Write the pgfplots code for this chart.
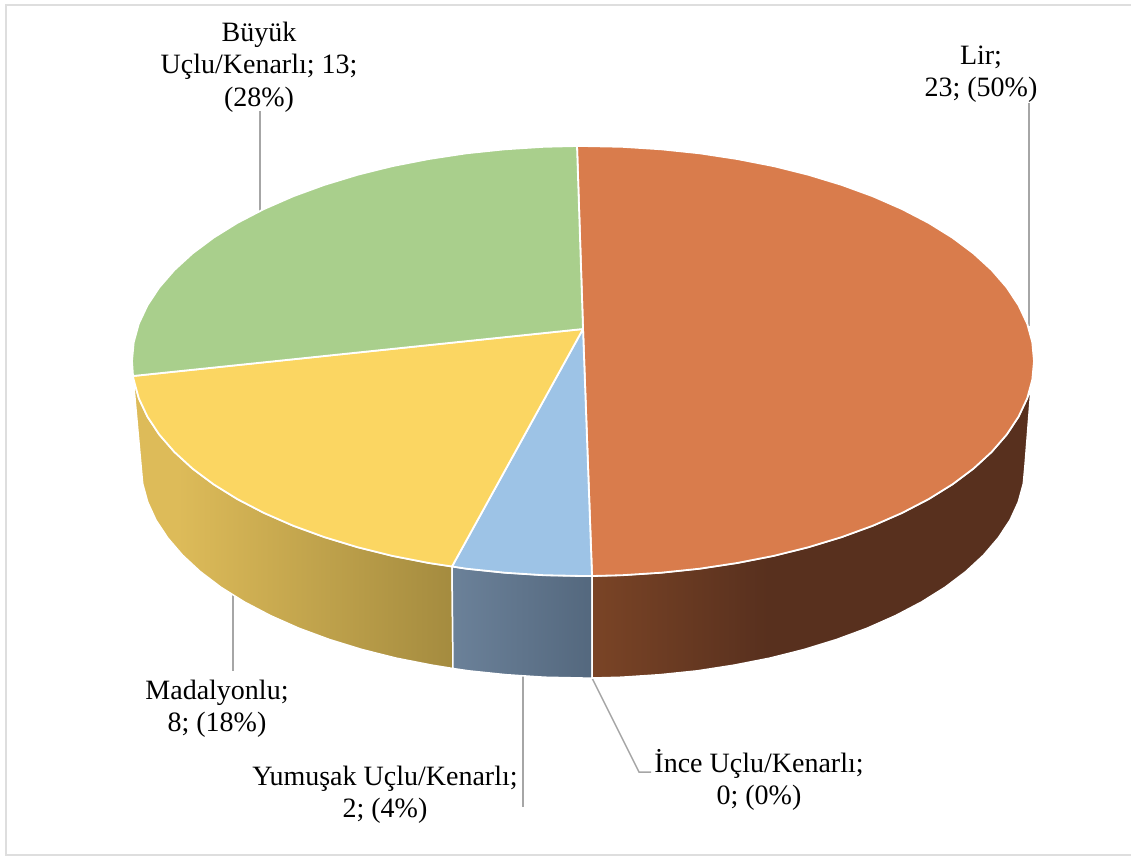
\documentclass[border=0pt]{standalone}
\usepackage{pgfplots}
\pgfplotsset{compat=1.18}
\usepackage{fontspec}
\setmainfont{Liberation Serif}
\definecolor{cOrange}{HTML}{D97C4C}
\definecolor{cGreen}{HTML}{A9CF8C}
\definecolor{cYellow}{HTML}{FBD662}
\definecolor{cBlue}{HTML}{9DC3E6}
\definecolor{cLead}{HTML}{A6A6A6}
\definecolor{cFrame}{HTML}{DEDEDE}
\definecolor{o1}{HTML}{7A4426}
\definecolor{o2}{HTML}{58301E}
\definecolor{b1}{HTML}{6B8199}
\definecolor{b2}{HTML}{54687E}
\definecolor{y1}{HTML}{DDBB59}
\definecolor{y2}{HTML}{A48B3F}
\pgfdeclarehorizontalshading{sideOrange}{100bp}{color(0bp)=(o1); color(25bp)=(o1); color(45bp)=(o2); color(100bp)=(o2)}
\pgfdeclarehorizontalshading{sideBlue}{100bp}{color(0bp)=(b1); color(25bp)=(b1); color(75bp)=(b2); color(100bp)=(b2)}
\pgfdeclarehorizontalshading{sideYellow}{100bp}{color(0bp)=(y1); color(25bp)=(y1); color(32bp)=(y1); color(75bp)=(y2); color(100bp)=(y2)}
\newcommand{\lbl}{\fontsize{28}{32.5}\selectfont}
\begin{document}
\begin{tikzpicture}
\path[use as bounding box] (0,0) rectangle (1131pt,856pt);
\begin{axis}[at={(0,0)},anchor=south west,scale only axis,width=1131pt,height=856pt,
  xmin=0,xmax=1131,ymin=0,ymax=856,y dir=reverse,hide axis,clip=false,
  every axis plot/.append style={mark=none}]
% frame
\addplot[cFrame,line width=1.8pt] coordinates {(1131,5)(6,5)(6,855)(1131,855)};
% leader lines
\addplot[cLead,line width=1.5pt] coordinates {(1029,103)(1029,326)};
\addplot[cLead,line width=1.5pt] coordinates {(260,111)(260,212)};
\addplot[cLead,line width=1.5pt] coordinates {(233,590)(233,671)};
\addplot[cLead,line width=1.5pt] coordinates {(523,675)(523,807)};
\addplot[cLead,line width=1.5pt] coordinates {(592,678)(639,772)(651,772)};
% side walls
\addplot[shading=sideYellow,draw=white,line width=1.5pt] coordinates {
(133,376)(133.7,379.7)(138.8,398.3)(147.4,416.6)(159.2,434.5)(174.3,451.9)(192.4,468.5)(213.5,484.3)(237.5,499.2)(264.1,513)(293.1,525.7)(324.3,537.1)(357.5,547.2)(392.4,555.9)(428.8,563)(452,566.5)
(453,668.5)(431.9,665.1)(396.2,658.1)(362,649.5)(329.5,639.5)(298.9,628.2)(270.5,615.6)(244.4,601.9)(220.9,587.2)(200.2,571.5)(182.5,555.1)(167.7,537.8)(156,520.1)(147.7,502)(142.7,483.6)(141,465)} -- cycle;
\addplot[shading=sideBlue,draw=white,line width=1.5pt] coordinates {
(452,566.5)(466.3,568.7)(504.7,572.7)(543.7,575.2)(583,576)(592,576)
(592,678)(583,678)(544.5,677.2)(506.3,674.7)(468.6,670.8)(453,668.5)} -- cycle;
\addplot[shading=sideOrange,draw=white,line width=1.5pt] coordinates {
(592,576)(622.3,575.2)(661.3,572.7)(699.7,568.7)(737.2,563)(773.6,555.9)(808.5,547.2)(841.7,537.1)(872.9,525.7)(901.9,513)(928.5,499.2)(952.5,484.3)(973.6,468.5)(991.7,451.9)(1006.8,434.5)(1018.6,416.6)(1027.2,398.3)(1031,388)
(1025,465)(1023.3,483.6)(1018.3,502)(1010,520.1)(998.3,537.8)(983.5,555.1)(965.8,571.5)(945.1,587.2)(921.6,601.9)(895.5,615.6)(867.1,628.2)(836.5,639.5)(804,649.5)(769.8,658.1)(734.1,665.1)(697.4,670.8)(659.7,674.7)(621.5,677.2)(592,678)} -- cycle;
% top slices
\addplot[fill=cOrange,draw=white,line width=1.8pt,line join=round] coordinates {
(583,329)(577,146)(583,146)(622.3,146.8)(661.3,149.3)(699.7,153.3)(737.2,159)(773.6,166.1)(808.5,174.8)(841.7,184.9)(872.9,196.3)(901.9,209)(928.5,222.8)(952.5,237.7)(973.6,253.5)(991.7,270.1)(1006.8,287.5)(1018.6,305.4)(1027.2,323.7)(1032.3,342.3)(1034,361)(1032.3,379.7)(1027.2,398.3)(1018.6,416.6)(1006.8,434.5)(991.7,451.9)(973.6,468.5)(952.5,484.3)(928.5,499.2)(901.9,513)(872.9,525.7)(841.7,537.1)(808.5,547.2)(773.6,555.9)(737.2,563)(699.7,568.7)(661.3,572.7)(622.3,575.2)(592,576)} -- cycle;
\addplot[fill=cBlue,draw=white,line width=1.8pt,line join=round] coordinates {
(583,329)(592,576)(583,576)(543.7,575.2)(504.7,572.7)(466.3,568.7)(452,566.5)} -- cycle;
\addplot[fill=cYellow,draw=white,line width=1.8pt,line join=round] coordinates {
(583,329)(452,566.5)(428.8,563)(392.4,555.9)(357.5,547.2)(324.3,537.1)(293.1,525.7)(264.1,513)(237.5,499.2)(213.5,484.3)(192.4,468.5)(174.3,451.9)(159.2,434.5)(147.4,416.6)(138.8,398.3)(133.7,379.7)(133,376)} -- cycle;
\addplot[fill=cGreen,draw=white,line width=1.8pt,line join=round] coordinates {
(583,329)(133,376)(132,361)(133.7,342.3)(138.8,323.7)(147.4,305.4)(159.2,287.5)(174.3,270.1)(192.4,253.5)(213.5,237.7)(237.5,222.8)(264.1,209)(293.1,196.3)(324.3,184.9)(357.5,174.8)(392.4,166.1)(428.8,159)(466.3,153.3)(504.7,149.3)(543.7,146.8)(577,146)} -- cycle;
% labels
\node[align=center,font=\lbl,inner sep=0pt] at (axis cs:259,67) {Büyük\\Uçlu/Kenarlı; 13;\\(28\%)};
\node[align=center,font=\lbl,inner sep=0pt] at (axis cs:981,74) {Lir;\\23; (50\%)};
\node[align=center,font=\lbl,inner sep=0pt] at (axis cs:217,709) {Madalyonlu;\\8; (18\%)};
\node[align=center,font=\lbl,inner sep=0pt] at (axis cs:385,795) {Yumuşak Uçlu/Kenarlı;\\2; (4\%)};
\node[align=center,font=\lbl,inner sep=0pt] at (axis cs:759,780) {İnce Uçlu/Kenarlı;\\0; (0\%)};
\end{axis}
\end{tikzpicture}
\end{document}
